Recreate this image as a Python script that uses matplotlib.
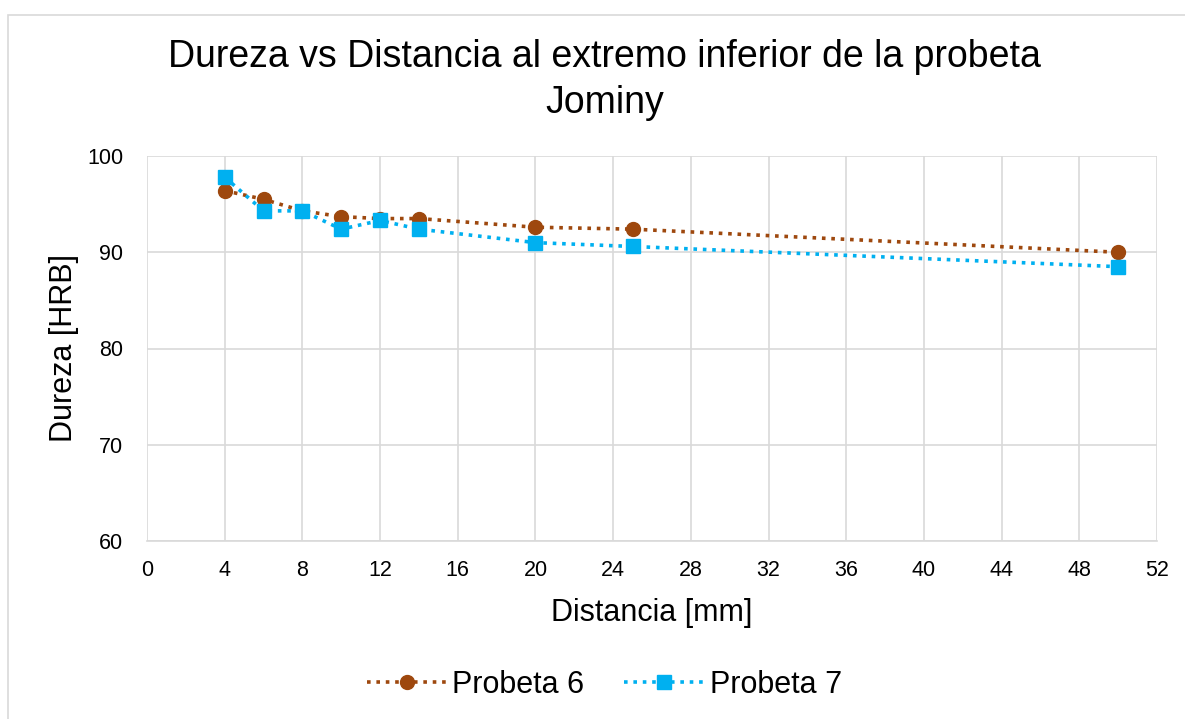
import matplotlib
matplotlib.use("Agg")
import matplotlib.pyplot as plt
from matplotlib.patches import Rectangle

plt.rcParams['font.family'] = ['Liberation Sans', 'DejaVu Sans']

distancia_6 = [4, 6, 8, 10, 12, 14, 20, 25, 50]
dureza_6 = [96.4, 95.5, 94.3, 93.7, 93.5, 93.5, 92.6, 92.4, 90.0]
distancia_7 = [4, 6, 8, 10, 12, 14, 20, 25, 50]
dureza_7 = [97.8, 94.3, 94.3, 92.4, 93.3, 92.4, 91.0, 90.6, 88.5]
x_ticks = list(range(0, 53, 4))
y_ticks = [60, 70, 80, 90, 100]

fig = plt.figure(figsize=(11.85, 7.19), dpi=100)
ax = fig.add_axes([147 / 1185, 1 - 541 / 719, (1157 - 147) / 1185, (541 - 156) / 719])

# outer chart frame
fig.patches.append(Rectangle((8 / 1185, -0.01), 1.0, 1 - 15 / 719 + 0.01,
                             transform=fig.transFigure, fill=False,
                             edgecolor='#d9d9d9', linewidth=1.2))

ax.plot(distancia_6, dureza_6, linestyle=(0, (1, 1.6)), color='#9E480E', linewidth=2.6,
        marker='o', markersize=10, label='Probeta 6', zorder=3)
ax.plot(distancia_7, dureza_7, linestyle=(0, (1, 1.6)), color='#00B0F0', linewidth=2.6,
        marker='s', markersize=10, label='Probeta 7', zorder=4)

ax.set_xlim(0, 52)
ax.set_ylim(60, 100)
ax.set_xticks(x_ticks)
ax.set_yticks(y_ticks)
ax.tick_params(axis='both', length=0, labelsize=15.5, colors='#000000')
ax.tick_params(axis='x', pad=14)
ax.tick_params(axis='y', pad=17)
ax.grid(True, color='#d9d9d9', linewidth=1.2)
ax.set_axisbelow(True)
for side in ['top', 'right', 'left']:
    ax.spines[side].set_visible(False)
ax.spines['bottom'].set_color('#d9d9d9')
ax.spines['bottom'].set_linewidth(1.2)

ax.set_xlabel('Distancia [mm]', fontsize=22, labelpad=12)
ax.set_ylabel('Dureza [HRB]', fontsize=22, labelpad=6)

fig.text(0.51, 1 - 80 / 719, 'Dureza vs Distancia al extremo inferior de la probeta\nJominy',
         ha='center', va='center', fontsize=27, linespacing=1.35)

fig.legend(loc='center', bbox_to_anchor=(0.51, 1 - 685 / 719), ncol=2, frameon=False,
           fontsize=22, handlelength=2.6, columnspacing=1.3, handletextpad=0.2)

fig.savefig('out.png', dpi=100)
